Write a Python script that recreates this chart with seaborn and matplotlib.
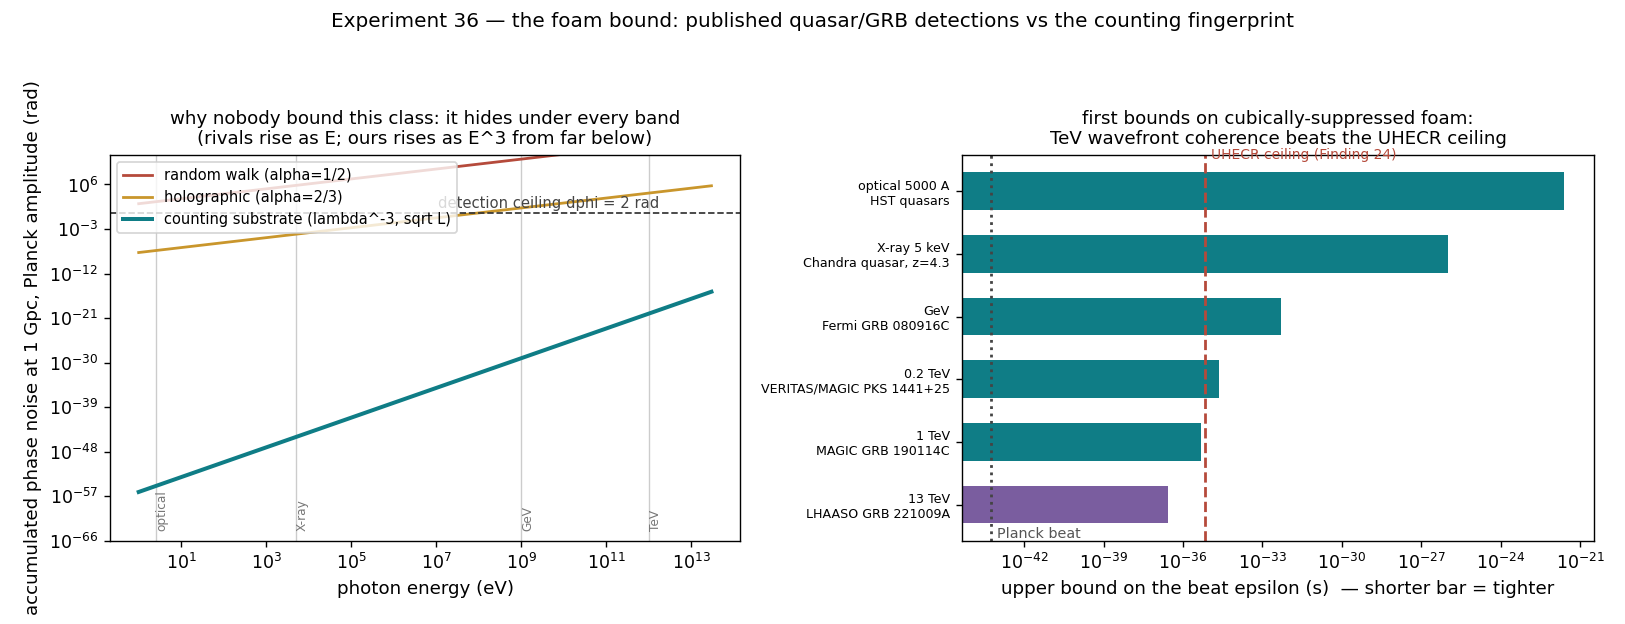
import numpy as np
import pandas as pd
import seaborn as sns
import matplotlib
matplotlib.use("Agg")
import matplotlib.pyplot as plt
from matplotlib.ticker import NullLocator
import matplotlib.transforms as mtransforms

# left panel: accumulated phase noise vs photon energy (endpoints of straight log-log lines)
energy_ev = [1.0, 3e13]
random_walk = [1.3e2, 3.9e15]
holographic = [1.8e-8, 5.4e5]
counting = [8e-57, 2.2e-16]
band_names = ["optical", "X-ray", "GeV", "TeV"]
band_energy = [2.5, 5e3, 1e9, 1e12]
ceiling_rad = 2.0

# right panel: upper bounds on the beat epsilon
det_labels = ["optical 5000 A\nHST quasars",
              "X-ray 5 keV\nChandra quasar, z=4.3",
              "GeV\nFermi GRB 080916C",
              "0.2 TeV\nVERITAS/MAGIC PKS 1441+25",
              "1 TeV\nMAGIC GRB 190114C",
              "13 TeV\nLHAASO GRB 221009A"]
det_bounds = [2.5e-22, 1.0e-26, 5.0e-33, 2.2e-35, 4.8e-36, 2.8e-37]
uhecr_ceiling = 6.9e-36
planck_beat = 5.39e-44

RED = "#b54a3b"
GOLD = "#c9962c"
TEAL = "#0f7d86"
PURPLE = "#7a5d9f"

fig = plt.figure(figsize=(13.0, 4.992), dpi=125)
ax1 = fig.add_axes([0.0677, 0.133, 0.3877, 0.619])
ax2 = fig.add_axes([0.592, 0.133, 0.389, 0.619])

# ---- left ----
sns.lineplot(x=energy_ev, y=random_walk, ax=ax1, color=RED, lw=1.6, label="random walk (alpha=1/2)")
sns.lineplot(x=energy_ev, y=holographic, ax=ax1, color=GOLD, lw=1.6, label="holographic (alpha=2/3)")
sns.lineplot(x=energy_ev, y=counting, ax=ax1, color=TEAL, lw=2.3, label="counting substrate (lambda^-3, sqrt L)")
ax1.set_xscale("log")
ax1.set_yscale("log")
for name, e in zip(band_names, band_energy):
    ax1.axvline(e, color="#cccccc", lw=0.8, zorder=0)
    ax1.text(e, 1e-64, name, rotation=90, ha="left", va="bottom", fontsize=7, color="#777777")
ax1.axhline(ceiling_rad, color="#333333", ls="--", lw=1.0)
ax1.text(1.1e7, ceiling_rad * 2.0, "detection ceiling dphi = 2 rad", fontsize=8.5, color="#444444", va="bottom")
ax1.set_ylim(1e-66, 1e12)
ax1.set_xlim(10 ** -0.675, 10 ** 14.15)
ax1.set_xticks([10.0 ** k for k in range(1, 14, 2)])
ax1.set_yticks([10.0 ** k for k in range(-66, 7, 9)])
ax1.xaxis.set_minor_locator(NullLocator())
ax1.yaxis.set_minor_locator(NullLocator())
ax1.tick_params(labelsize=10)
ax1.set_xlabel("photon energy (eV)", fontsize=10.5)
ax1.set_ylabel("accumulated phase noise at 1 Gpc, Planck amplitude (rad)", fontsize=10.5)
ax1.set_title("why nobody bound this class: it hides under every band\n(rivals rise as E; ours rises as E^3 from far below)",
              fontsize=10.5)
ax1.legend(loc="upper left", fontsize=8.4, framealpha=0.8)

# ---- right ----
df = pd.DataFrame({"label": det_labels, "bound": det_bounds})
colors = [TEAL] * 5 + [PURPLE]
ax2.set_xscale("log")
sns.barplot(data=df, x="bound", y="label", hue="label", palette=colors, legend=False,
            orient="h", width=0.6, ax=ax2, saturation=1)
ax2.axvline(uhecr_ceiling, color=RED, ls="--", lw=1.6)
ax2.axvline(planck_beat, color="#444444", ls=":", lw=1.6)
trans = mtransforms.blended_transform_factory(ax2.transData, ax2.transAxes)
ax2.text(uhecr_ceiling * 1.6, 1.0, "UHECR ceiling (Finding 24)", transform=trans, color=RED,
         fontsize=8, va="center", ha="left")
ax2.text(planck_beat * 1.8, 0.0, "Planck beat", transform=trans, color="#555555",
         fontsize=8.3, va="bottom", ha="left")
ax2.set_xlim(10 ** -44.35, 10 ** -20.47)
ax2.set_ylim(5.58, -0.58)
ax2.set_xticks([10.0 ** k for k in range(-42, -20, 3)])
ax2.xaxis.set_minor_locator(NullLocator())
ax2.tick_params(axis="x", labelsize=10)
ax2.tick_params(axis="y", labelsize=7.3)
ax2.set_ylabel("")
ax2.set_xlabel("upper bound on the beat epsilon (s)  \u2014 shorter bar = tighter", fontsize=10.5)
ax2.set_title("first bounds on cubically-suppressed foam:\nTeV wavefront coherence beats the UHECR ceiling",
              fontsize=10.5)

fig.suptitle("Experiment 36 \u2014 the foam bound: published quasar/GRB detections vs the counting fingerprint",
             fontsize=11.5, y=0.98)

fig.savefig("out.png", dpi=125)
